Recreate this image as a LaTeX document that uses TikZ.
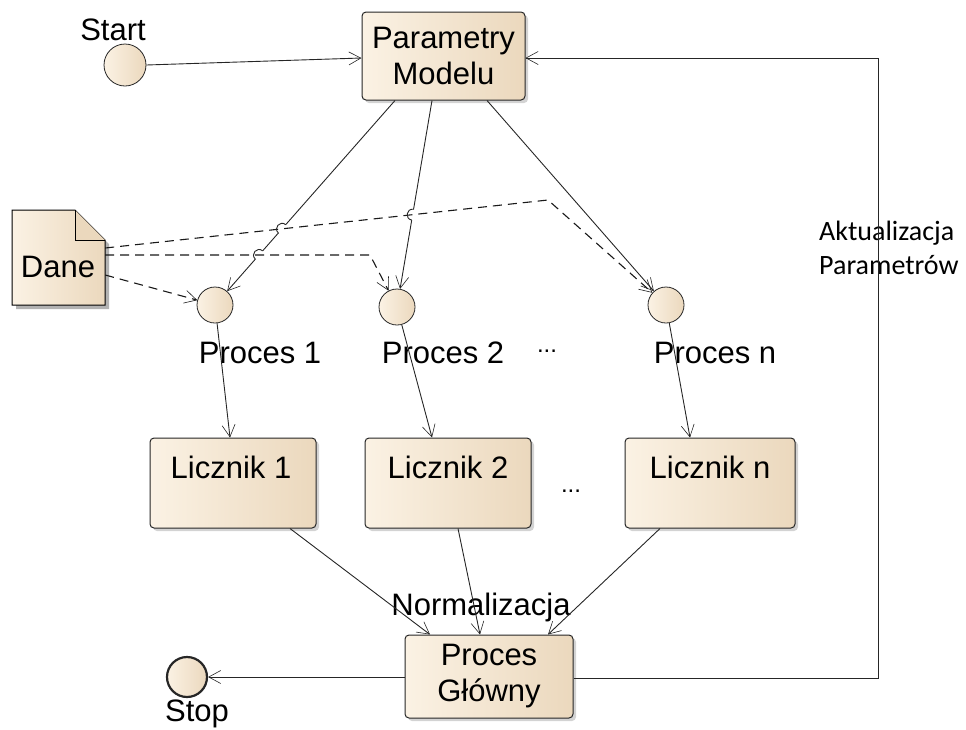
\documentclass[tikz,border=0pt]{standalone}
\usepackage{fontspec}
\setmainfont{Liberation Sans}
\newfontfamily\carlitofont{Carlito}
\usetikzlibrary{arrows.meta,shadows,calc,intersections}
\definecolor{bgL}{HTML}{FBF2E4}
\definecolor{bgR}{HTML}{EBD8BD}
\tikzset{
  box/.style={draw=black!85,line width=1pt,rounded corners=4pt,left color=bgL,right color=bgR,
    drop shadow={shadow xshift=3pt,shadow yshift=-3pt,opacity=0.35},align=center,font=\fontsize{31}{36}\selectfont,inner sep=0pt},
  pnode/.style={draw=black!85,line width=0.8pt,circle,minimum size=36pt,inner sep=0pt,left color=bgL,right color=bgR},
  lbl/.style={font=\fontsize{31}{35}\selectfont,inner sep=0pt},
  dots/.style={font=\fontsize{24}{28}\selectfont,inner sep=0pt},
  conn/.style={draw=black!85,line width=0.9pt,-{Straight Barb[length=12pt,width=13pt,line width=0.6pt]}},
  dconn/.style={conn,draw=black!90,line width=1.1pt,dashed,dash pattern=on 9pt off 6pt},
  hop/.style={draw=black!85,line width=0.9pt},
}
\begin{document}
\begin{tikzpicture}[x=1pt,y=-1pt]
\useasboundingbox (0,0) rectangle (966,729);
% nodes
\node[pnode,minimum size=42pt] (start) at (125,65) {};
\node[lbl] (startl) at (113,30) {Start};
\node[box,minimum width=163pt,minimum height=88pt] (param) at (443.5,56) {Parametry\\Modelu};
% Dane note
\fill[black,opacity=0.3] (16,214) -- (79,214) -- (109,244) -- (109,309) -- (16,309) -- cycle;
\draw[line width=1pt,left color=bgL,right color=bgR] (12,210) -- (75,210) -- (105,240) -- (105,305) -- (12,305) -- cycle;
\draw[line width=0.8pt,fill=bgR] (75,210) -- (75,240) -- (105,240);
\node[lbl,minimum width=93pt,minimum height=95pt] (dane) at (58.5,257.5) {};
\node[lbl] at (58,267) {Dane};
\node[pnode] (p1) at (215,305) {};
\node[pnode] (p2) at (397,307) {};
\node[pnode] (pn) at (666,305) {};
\node[lbl] at (260,353) {Proces 1};
\node[lbl] at (443,353) {Proces 2};
\node[dots] at (547,351) {...};
\node[lbl] at (715,353) {Proces n};
\node[box,minimum width=166pt,minimum height=90pt] (l1) at (233,483) {};
\node[box,minimum width=166pt,minimum height=90pt] (l2) at (448,483) {};
\node[box,minimum width=170pt,minimum height=90pt] (ln) at (710,483) {};
\node[lbl] (t1) at (231,467) {Licznik 1};
\node[lbl] (t2) at (448,467) {Licznik 2};
\node[lbl] (tn) at (710,467) {Licznik n};
\node[dots] at (571,491) {...};
\node[box,minimum width=168pt,minimum height=83pt] (pg) at (489,676.5) {Proces\\Główny};
\node[lbl] at (481,607) {Normalizacja};
\node[pnode,minimum size=40pt,line width=2.2pt] (stop) at (187,677) {};
\node[lbl] at (197,714) {Stop};
\coordinate (c1) at (878,678);
\coordinate (c2) at (878,58);
\node[font=\carlitofont\fontsize{28}{34}\selectfont,align=left,anchor=west,inner sep=0pt] at (819,248) {Aktualizacja\\Parametrów};
% connectors
\draw[conn] (start.east) -- (param.west |- 0,58);
\draw[conn] (pg.east |- c1) -- (c1) -- (c2) -- (param.east |- c2);
\coordinate (sa) at (param.south -| 395,0);
\coordinate (sb) at (param.south -| 432,0);
\draw[conn,name path=pa] (sa) -- (p1);
\draw[conn,name path=pb] (sb) -- (p2);
\draw[conn] (param.south -| 487,0) -- (pn);
\draw[conn] (p1) -- (l1.north -| 230,0);
\draw[conn] (p2) -- (l2.north -| 432,0);
\draw[conn] (pn) -- (ln.north -| 690,0);
\draw[conn] (l1.south -| 290,0) -- (pg.north -| 430,0);
\draw[conn] (l2.south -| 458,0) -- (pg.north -| 480,0);
\draw[conn] (ln.south -| 660,0) -- (pg.north -| 548,0);
\draw[conn] (pg.west |- stop) -- (stop);
% dashed with hops
\path[name path=d2] (dane.east |- 0,255) -- (370,255);
\path[name path=d3] (dane.east |- 0,248) -- (548,200);
\path[name intersections={of=pa and d3,by=x1}];
\path[name intersections={of=pa and d2,by=x2}];
\path[name intersections={of=pb and d3,by=x3}];
\foreach \x in {x1,x2,x3} {\fill[white] (\x) circle (5.5pt);}
\draw[dconn] (dane.east |- 0,275) -- (p1);
\draw[dconn] (dane.east |- 0,255) -- (370,255) -- (p2);
\draw[dconn] (dane.east |- 0,248) -- (548,200) -- (pn);
\foreach \x/\s/\e in {x1/sa/p1,x2/sa/p1,x3/sb/p2} {
  \draw[hop] ($(\x)!5.5pt!(\s)$) .. controls ($($(\x)!5.5pt!(\s)$)!7.3pt!-90:(\x)$) and ($($(\x)!5.5pt!(\e)$)!7.3pt!90:(\x)$) .. ($(\x)!5.5pt!(\e)$);
}
\end{tikzpicture}
\end{document}
